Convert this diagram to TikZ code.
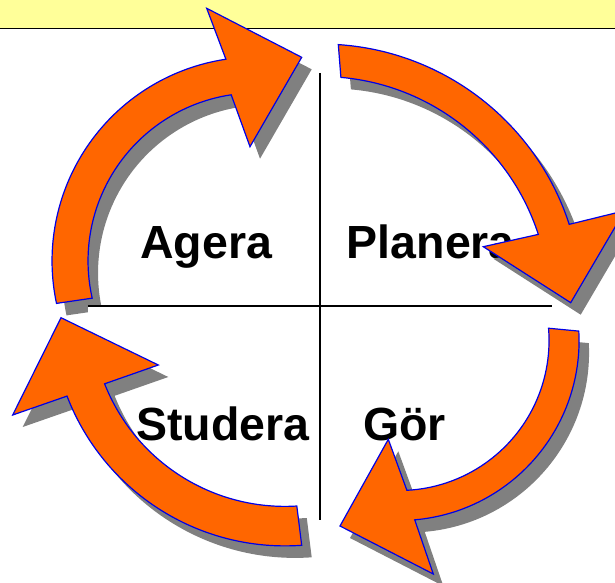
\documentclass[tikz,border=0pt]{standalone}
\usepackage{fontspec}
\setmainfont{Liberation Sans}
\usetikzlibrary{shadows}

\definecolor{pdcaorange}{RGB}{255,102,0}
\definecolor{pdcablue}{RGB}{0,0,230}
\definecolor{skuggagra}{RGB}{128,128,128}
\definecolor{bandgul}{RGB}{255,255,153}

\tikzset{
  pil/.style={fill=pdcaorange, draw=pdcablue, line width=1.2pt,
    drop shadow={shadow xshift=10pt, shadow yshift=-12pt, fill=skuggagra, opacity=1}},
  ruta/.style={fill=white, draw=none},
  etikett/.style={font=\fontsize{46.5}{50}\selectfont\bfseries, inner sep=0pt, anchor=base west}
}

\begin{document}
\begin{tikzpicture}[x=1pt, y=1pt]
\path[use as bounding box, clip] (0,0) rectangle (615,582);
% Yellow band at the top
\fill[bandgul] (0,554) rectangle (615,582);
\draw[line width=1pt] (0,553.7) -- (615,553.7);
% Agera arrow, up and to the right
\draw[pil] (56.5,278.6) arc[start angle=192, end angle=98.5, radius=204pt]
  -- (206.7,573.7) -- (301.7,524.7) -- (250,435.3)
  -- (231.2,487.2) arc[start angle=98.5, end angle=192.8, radius=168pt] -- cycle;
% Upper labels
\node[etikett] (agera) at (140,323.7) {Agera};
\node[etikett] (planera) at (346.6,323.7) {Planera};
% Planera arrow, down on the right
\draw[pil] (338.3,537.4) arc[start angle=86.2, end angle=18, radius=261pt]
  -- (624.7,371.3) -- (570.7,279.3) -- (483.3,335.3)
  -- (538.3,347.6) arc[start angle=18, end angle=85, radius=228.5pt] -- cycle;
% Lower quadrants
\fill[ruta] (88,62) rectangle (320,276);
\fill[ruta] (320,62) rectangle (552,276);
% Cross
\coordinate (topp) at (320,509);
\coordinate (botten) at (320,62);
\coordinate (vanster) at (88,276);
\coordinate (hoger) at (552,276);
\draw[line width=1.3pt] (topp) -- (botten);
\draw[line width=1.3pt] (vanster) -- (hoger);
% Lower labels
\node[etikett] (studera) at (136,142) {Studera};
\node[etikett] (gor) at (363,142) {Gör};
% Gör arrow, down and to the left
\draw[pil] (578.8,250.9) arc[start angle=3, end angle=-85, radius=180pt]
  -- (433.3,8) -- (340,56) -- (388.3,142.7)
  -- (406.9,91.7) arc[start angle=-87, end angle=4.7, radius=150pt] -- cycle;
% Studera arrow, up on the left
\draw[pil] (301.7,36.7) arc[start angle=274.1, end angle=201, radius=233.5pt]
  -- (12.7,167) -- (61,264.3) -- (158.3,217)
  -- (104.6,198.2) arc[start angle=201.6, end angle=273.5, radius=194pt] -- cycle;
\end{tikzpicture}
\end{document}
